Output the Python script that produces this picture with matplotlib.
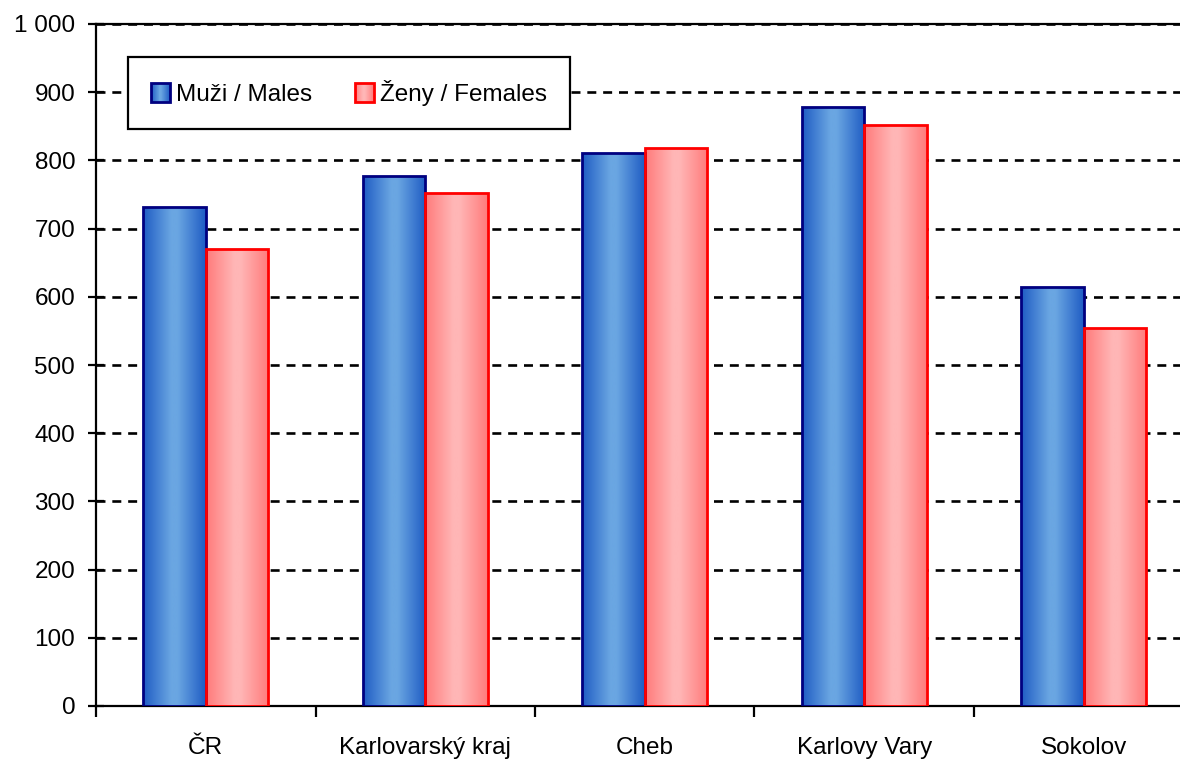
import numpy as np
import matplotlib.pyplot as plt
from matplotlib.patches import Rectangle
from matplotlib.legend_handler import HandlerBase
from matplotlib.colors import LinearSegmentedColormap
from matplotlib.ticker import FuncFormatter

plt.rcParams['font.family'] = ['Liberation Sans', 'DejaVu Sans']

# data
categories = ['ČR', 'Karlovarský kraj', 'Cheb', 'Karlovy Vary', 'Sokolov']
males = [732, 777, 811, 878, 614]
females = [670, 752, 818, 852, 554]
series_names = ['Muži / Males', 'Ženy / Females']

blue_cols = ['#1f5cc4', '#6aa6e2', '#6aa6e2', '#1f5cc4']
red_cols = ['#ff7a7a', '#ffb6b6', '#ffb6b6', '#ff7a7a']
blue_cmap = LinearSegmentedColormap.from_list('b', list(zip([0, 0.45, 0.55, 1], blue_cols)))
red_cmap = LinearSegmentedColormap.from_list('r', list(zip([0, 0.45, 0.55, 1], red_cols)))

fig = plt.figure(figsize=(11.8, 7.63), dpi=100)
ax = fig.add_axes([96 / 1180, 57 / 763, 1097.5 / 1180, 682 / 763])

x = np.arange(len(categories))
w = 0.285
grad = np.linspace(0, 1, 256).reshape(1, -1)


def gradient_bars(xs, vals, cmap, edge):
    bars = ax.bar(xs, vals, width=w, facecolor='none', edgecolor=edge,
                  linewidth=2, zorder=4)
    for b in bars:
        im = ax.imshow(grad, cmap=cmap, aspect='auto', zorder=3,
                       extent=[b.get_x(), b.get_x() + b.get_width(), 0, b.get_height()])
        im.set_clip_path(b)
    return bars


gradient_bars(x - w / 2, males, blue_cmap, '#000080')
gradient_bars(x + w / 2, females, red_cmap, '#ff0000')

ax.set_xlim(-0.5, len(categories) - 0.5)
ax.set_ylim(0, 1000)
ax.set_yticks(range(0, 1001, 100))
ax.yaxis.set_major_formatter(FuncFormatter(lambda v, p: f'{int(v):,}'.replace(',', ' ')))
ax.set_xticks(np.arange(len(categories) + 1) - 0.5)
ax.set_xticklabels([])
ax.set_xticks(x, minor=True)
ax.set_xticklabels(categories, minor=True)

ax.grid(axis='y', color='black', linestyle=(0, (3.4, 2.6)), linewidth=1.9, zorder=1)
ax.set_axisbelow(True)
for s in ['left', 'bottom', 'top']:
    ax.spines[s].set_linewidth(1.6)
ax.spines['right'].set_visible(False)

ax.tick_params(axis='y', which='major', direction='inout', length=12, width=1.6,
               labelsize=17.5, pad=9)
ax.tick_params(axis='x', which='major', direction='out', length=8, width=1.6)
ax.tick_params(axis='x', which='minor', length=0, labelsize=17.5, pad=22)


class GradHandler(HandlerBase):
    def __init__(self, cmap, edge):
        super().__init__()
        self.cmap = cmap
        self.edge = edge

    def create_artists(self, legend, orig_handle, xdescent, ydescent,
                       width, height, fontsize, trans):
        arts = []
        n = 20
        for i in range(n):
            r = Rectangle((-xdescent + width * i / n, -ydescent), width / n + 0.3, height,
                          facecolor=self.cmap((i + 0.5) / n), edgecolor='none',
                          transform=trans)
            arts.append(r)
        arts.append(Rectangle((-xdescent, -ydescent), width, height, facecolor='none',
                              edgecolor=self.edge, linewidth=2, transform=trans))
        return arts


h1 = Rectangle((0, 0), 1, 1)
h2 = Rectangle((0, 0), 1, 1)
leg = ax.legend([h1, h2], series_names, ncol=2, loc='upper left',
                bbox_to_anchor=(0.029, 0.952), borderaxespad=0, fontsize=17.5,
                handlelength=0.78, handleheight=0.78, handletextpad=0.25,
                columnspacing=1.75, borderpad=0.95, fancybox=False, framealpha=1,
                handler_map={h1: GradHandler(blue_cmap, '#000080'),
                             h2: GradHandler(red_cmap, '#ff0000')})
leg.get_frame().set_edgecolor('black')
leg.get_frame().set_linewidth(1.6)
leg.set_zorder(10)

fig.savefig('out.png', dpi=100)
